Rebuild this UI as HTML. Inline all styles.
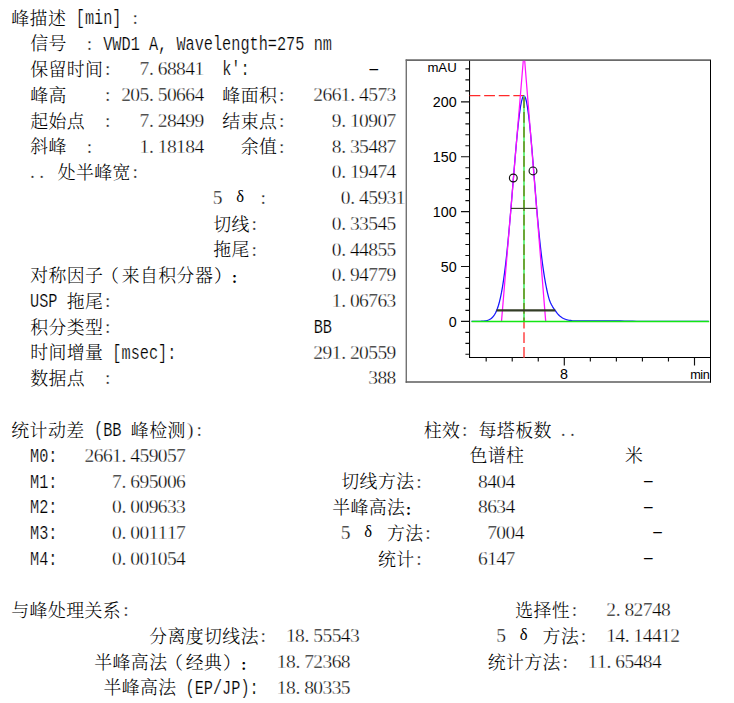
<!DOCTYPE html>
<html lang="zh-CN"><head><meta charset="utf-8"><title>峰描述</title>
<style>
html,body{margin:0;padding:0;background:#fff;overflow:hidden}
svg{display:block}
text{fill:#000;white-space:pre}
.c{font-family:"Liberation Serif","Noto Serif CJK SC",serif;font-size:17.9px;font-weight:300}
.n{font-family:"Liberation Serif",serif;font-size:19.5px;stroke:#fff;stroke-width:.34px;paint-order:fill stroke}
.m{font-family:"Liberation Mono",monospace;font-size:20.3px;stroke:#fff;stroke-width:.22px;paint-order:fill stroke}
.h{font-family:"Liberation Serif",serif;font-size:18.9px}
.g{font-family:"Liberation Serif",serif;font-size:16.6px}
.f{font-family:"Liberation Serif","Noto Serif CJK SC",serif;font-size:14px;font-weight:700}
.a{font-family:"Liberation Sans",sans-serif}
</style></head>
<body>
<svg width="734" height="703" viewBox="0 0 734 703">
<rect width="734" height="703" fill="#fff"/>
<g id="report">
<text class="c" x="11.3 29.6 47.9" y="25">峰描述</text>
<text class="m" transform="translate(75.75 24) scale(0.7512 1)">[min]</text>
<text class="n" x="132.52" y="24">:</text>
<text class="c" x="30.2 48.5" y="50">信号</text>
<text class="n" x="86.77" y="50">:</text>
<text class="m" transform="translate(103.2 50) scale(0.7512 1)">VWD1</text>
<text class="m" transform="translate(148.95 50) scale(0.7512 1)">A,</text>
<text class="m" transform="translate(176.4 50) scale(0.7512 1)">Wavelength=275</text>
<text class="m" transform="translate(313.65 50) scale(0.7512 1)">nm</text>
<text class="c" x="30.2 48.5 66.8 85.1" y="76">保留时间</text>
<text class="n" x="105.07" y="75">:</text>
<text class="n" x="139.5 149.05 157.8 166.95 176.1 185.25 194.4" y="75">7.68841</text>
<text class="m" transform="translate(222.15 75) scale(0.7512 1)">k':</text>
<text class="h" transform="translate(368.32 74) scale(1.755 1)">-</text>
<text class="c" x="30.2 48.5" y="102">峰高</text>
<text class="n" x="105.07" y="101">:</text>
<text class="n" x="121.2 130.35 139.5 149.05 157.8 166.95 176.1 185.25 194.4" y="101">205.50664</text>
<text class="c" x="222.35 240.65 258.95" y="102">峰面积</text>
<text class="n" x="278.92" y="101">:</text>
<text class="n" x="313.35 322.5 331.65 340.8 350.35 359.1 368.25 377.4 386.55" y="101">2661.4573</text>
<text class="c" x="30.2 48.5 66.8" y="128">起始点</text>
<text class="n" x="105.07" y="127">:</text>
<text class="n" x="139.5 149.05 157.8 166.95 176.1 185.25 194.4" y="127">7.28499</text>
<text class="c" x="222.35 240.65 258.95" y="128">结束点</text>
<text class="n" x="278.92" y="127">:</text>
<text class="n" x="331.65 341.2 349.95 359.1 368.25 377.4 386.55" y="127">9.10907</text>
<text class="c" x="30.2 48.5" y="153">斜峰</text>
<text class="n" x="86.77" y="153">:</text>
<text class="n" x="139.5 149.05 157.8 166.95 176.1 185.25 194.4" y="153">1.18184</text>
<text class="c" x="240.65 258.95" y="153">余值</text>
<text class="n" x="278.92" y="153">:</text>
<text class="n" x="331.65 341.2 349.95 359.1 368.25 377.4 386.55" y="153">8.35487</text>
<text class="n" x="30.1 39.25" y="178">..</text>
<text class="c" x="57.65 75.95 94.25 112.55" y="179">处半峰宽</text>
<text class="n" x="132.52" y="178">:</text>
<text class="n" x="331.65 341.2 349.95 359.1 368.25 377.4 386.55" y="178">0.19474</text>
<text class="n" x="212.7" y="204">5</text>
<text class="g" x="236.14" y="202">δ</text>
<text class="n" x="260.62" y="204">:</text>
<text class="n" x="340.8 350.35 359.1 368.25 377.4 386.55 395.7" y="204">0.45931</text>
<text class="c" x="213.2 231.5" y="231">切线</text>
<text class="n" x="251.47" y="230">:</text>
<text class="n" x="331.65 341.2 349.95 359.1 368.25 377.4 386.55" y="230">0.33545</text>
<text class="c" x="213.2 231.5" y="256">拖尾</text>
<text class="n" x="251.47" y="256">:</text>
<text class="n" x="331.65 341.2 349.95 359.1 368.25 377.4 386.55" y="256">0.44855</text>
<text class="c" x="30.2 48.5 66.8 85.1 101 121.7 140 158.3 176.6 194.9 213.95" y="282">对称因子（来自积分器）</text>
<text class="f" x="230.85" y="283.2">：</text>
<text class="n" x="331.65 341.2 349.95 359.1 368.25 377.4 386.55" y="281">0.94779</text>
<text class="m" transform="translate(30 307) scale(0.7512 1)">USP</text>
<text class="c" x="66.8 85.1" y="308">拖尾</text>
<text class="n" x="105.07" y="307">:</text>
<text class="n" x="331.65 341.2 349.95 359.1 368.25 377.4 386.55" y="307">1.06763</text>
<text class="c" x="30.2 48.5 66.8 85.1" y="334">积分类型</text>
<text class="n" x="105.07" y="333">:</text>
<text class="m" transform="translate(313.65 333) scale(0.7512 1)">BB</text>
<text class="c" x="30.2 48.5 66.8 85.1" y="359">时间增量</text>
<text class="m" transform="translate(112.35 359) scale(0.7512 1)">[msec]:</text>
<text class="n" x="313.35 322.5 331.65 341.2 349.95 359.1 368.25 377.4 386.55" y="359">291.20559</text>
<text class="c" x="30.2 48.5 66.8" y="385">数据点</text>
<text class="n" x="105.07" y="384">:</text>
<text class="n" x="368.25 377.4 386.55" y="384">388</text>
<text class="c" x="11.3 29.6 47.9 66.2" y="437">统计动差</text>
<text class="m" transform="translate(94.05 436) scale(0.7512 1)">(BB</text>
<text class="c" x="130.85 149.15 167.45" y="437">峰检测</text>
<text class="n" x="186.88 196.57" y="436">):</text>
<text class="c" x="423.65 441.95" y="437">柱效</text>
<text class="n" x="461.92" y="436">:</text>
<text class="c" x="478.55 496.85 515.15 533.45" y="437">每塔板数</text>
<text class="n" x="560.8 569.95" y="436">..</text>
<text class="m" transform="translate(30 462) scale(0.7512 1)">M0:</text>
<text class="n" x="84.6 93.75 102.9 112.05 121.6 130.35 139.5 148.65 157.8 166.95 176.1" y="462">2661.459057</text>
<text class="c" x="469.4 487.7 506" y="462">色谱柱</text>
<text class="c" x="624.95" y="462">米</text>
<text class="m" transform="translate(30 488) scale(0.7512 1)">M1:</text>
<text class="n" x="112.05 121.6 130.35 139.5 148.65 157.8 166.95 176.1" y="488">7.695006</text>
<text class="c" x="341.3 359.6 377.9 396.2" y="488">切线方法</text>
<text class="n" x="416.17" y="488">:</text>
<text class="n" x="478.05 487.2 496.35 505.5" y="488">8404</text>
<text class="h" transform="translate(642.82 486) scale(1.755 1)">-</text>
<text class="m" transform="translate(30 513) scale(0.7512 1)">M2:</text>
<text class="n" x="112.05 121.6 130.35 139.5 148.65 157.8 166.95 176.1" y="513">0.009633</text>
<text class="c" x="332.15 350.45 368.75 387.05" y="514">半峰高法</text>
<text class="f" x="404.7" y="515.2">：</text>
<text class="n" x="478.05 487.2 496.35 505.5" y="513">8634</text>
<text class="h" transform="translate(642.82 512) scale(1.755 1)">-</text>
<text class="m" transform="translate(30 539) scale(0.7512 1)">M3:</text>
<text class="n" x="112.05 121.6 130.35 139.5 148.65 157.8 166.95 176.1" y="539">0.001117</text>
<text class="n" x="340.8" y="539">5</text>
<text class="g" x="364.24" y="537">δ</text>
<text class="c" x="387.05 405.35" y="540">方法</text>
<text class="n" x="425.32" y="539">:</text>
<text class="n" x="487.2 496.35 505.5 514.65" y="539">7004</text>
<text class="h" transform="translate(651.97 537) scale(1.755 1)">-</text>
<text class="m" transform="translate(30 565) scale(0.7512 1)">M4:</text>
<text class="n" x="112.05 121.6 130.35 139.5 148.65 157.8 166.95 176.1" y="565">0.001054</text>
<text class="c" x="377.9 396.2" y="566">统计</text>
<text class="n" x="416.17" y="565">:</text>
<text class="n" x="478.05 487.2 496.35 505.5" y="565">6147</text>
<text class="h" transform="translate(642.82 563) scale(1.755 1)">-</text>
<text class="c" x="11.3 29.6 47.9 66.2 84.5 102.8" y="617">与峰处理关系</text>
<text class="n" x="123.37" y="616">:</text>
<text class="c" x="515.15 533.45 551.75" y="617">选择性</text>
<text class="n" x="571.72" y="616">:</text>
<text class="n" x="606.15 615.7 624.45 633.6 642.75 651.9 661.05" y="616">2.82748</text>
<text class="c" x="149.15 167.45 185.75 204.05 222.35 240.65" y="643">分离度切线法</text>
<text class="n" x="260.62" y="642">:</text>
<text class="n" x="285.9 295.05 304.6 313.35 322.5 331.65 340.8 349.95" y="642">18.55543</text>
<text class="n" x="496.35" y="642">5</text>
<text class="g" x="519.79" y="640">δ</text>
<text class="c" x="542.6 560.9" y="643">方法</text>
<text class="n" x="580.87" y="642">:</text>
<text class="n" x="606.15 615.3 624.85 633.6 642.75 651.9 661.05 670.2" y="642">14.14412</text>
<text class="c" x="94.25 112.55 130.85 149.15 165.05 185.75 204.05 223.1" y="669">半峰高法（经典）</text>
<text class="f" x="240" y="670.2">：</text>
<text class="n" x="276.75 285.9 295.45 304.2 313.35 322.5 331.65 340.8" y="668">18.72368</text>
<text class="c" x="487.7 506 524.3 542.6" y="669">统计方法</text>
<text class="n" x="562.57" y="668">:</text>
<text class="n" x="587.85 597 606.55 615.3 624.45 633.6 642.75 651.9" y="668">11.65484</text>
<text class="c" x="103.4 121.7 140 158.3" y="694">半峰高法</text>
<text class="m" transform="translate(185.55 694) scale(0.7512 1)">(EP/JP):</text>
<text class="n" x="276.75 285.9 295.45 304.2 313.35 322.5 331.65 340.8" y="694">18.80335</text>
</g>
<g id="chart" fill="none">
<path d="M406.25 59.4V382.7" stroke="#5a5a5a" stroke-width="1.2"/>
<path d="M405.65 60.1H711" stroke="#6a6a6a" stroke-width="1.6"/>
<path d="M405.65 382H711" stroke="#5c5c5c" stroke-width="1.6"/>
<path d="M710.5 60.1V382.6" stroke="#000" stroke-width="1"/>
<path d="M469.55 60.7V357.45H710.5" stroke="#000" stroke-width="1.05"/>
<path d="M465.4 354.28H469.55M465.4 343.3H469.55M465.4 332.33H469.55M461 321.35H469.55M465.4 310.38H469.55M465.4 299.4H469.55M465.4 288.43H469.55M465.4 277.45H469.55M461 266.48H469.55M465.4 255.5H469.55M465.4 244.53H469.55M465.4 233.55H469.55M465.4 222.58H469.55M461 211.6H469.55M465.4 200.63H469.55M465.4 189.65H469.55M465.4 178.68H469.55M465.4 167.7H469.55M461 156.73H469.55M465.4 145.75H469.55M465.4 134.78H469.55M465.4 123.8H469.55M465.4 112.83H469.55M461 101.85H469.55M465.4 90.88H469.55M465.4 79.9H469.55M465.4 68.93H469.55" stroke="#111" stroke-width="1.15"/>
<path d="M486.18 357.45V361.5M512.22 357.45V361.5M538.26 357.45V361.5M564.3 357.45V365.6M590.34 357.45V361.5M616.38 357.45V361.5M642.42 357.45V361.5M668.46 357.45V361.5M694.5 357.45V365.6" stroke="#111" stroke-width="1.15"/>
<path d="M469.55 95.6H524" stroke="#ff2a2a" stroke-width="1.15" stroke-dasharray="10.8 3.8"/>
<path d="M471.5 321.35 472.5 321.35 473.5 321.34 474.5 321.34 475.5 321.33 476.5 321.33 477.5 321.32 478.5 321.3 479.5 321.28 480.5 321.25 481.5 321.2 482.5 321.14 483.5 321.06 484.5 320.95 485.5 320.8 486.5 320.6 487.5 320.34 488.5 319.99 489.5 319.55 490.5 318.98 491.5 318.25 492.5 317.33 493.5 316.18 494.5 314.75 495.5 313 496.5 310.87 497.5 308.3 498.5 305.23 499.5 301.61 500.5 297.36 501.5 292.44 502.5 286.79 503.5 280.37 504.5 273.15 505.5 265.11 506.5 256.26 507.5 246.63 508.5 236.27 509.5 225.26 510.5 213.69 511.5 201.71 512.5 189.47 513.5 177.16 514.5 164.97 515.5 153.12 516.5 141.83 517.5 131.34 518.5 121.86 519.5 113.59 520.5 106.74 521.5 101.45 522.5 97.85 523.5 96.03 524.5 96.04 525.5 97.96 526.5 101.76 527.5 107.34 528.5 114.55 529.5 123.23 530.5 133.16 531.5 144.13 532.5 155.87 533.5 168.16 534.5 180.75 535.5 193.4 536.5 205.91 537.5 217.31 538.5 227.98 539.5 238.01 540.5 247.29 541.5 255.86 542.5 263.72 543.5 270.86 544.5 277.31 545.5 283.09 546.5 288.25 547.5 292.81 548.5 296.84 549.5 300.37 550.5 302.69 551.5 304.75 552.5 306.56 553.5 308.17 554.5 309.6 555.5 310.9 556.5 312.4 557.5 313.7 558.5 314.81 559.5 315.78 560.5 316.61 561.5 317.32 562.5 317.93 563.5 318.45 564.5 318.89 565.5 319.27 566.5 319.59 567.5 319.86 568.5 320.09 569.5 320.29 570.5 320.45 571.5 320.63 572.5 320.79 573.5 320.8 574.5 320.8 575.5 320.8 576.5 320.8 577.5 320.8 578.5 320.8 579.5 320.8 580.5 320.8 581.5 320.8 582.5 320.8 583.5 320.8 584.5 320.8 588.5 320.8 592.5 320.8 596.5 320.8 600.5 320.8 604.5 320.8 608.5 320.8 612.5 320.85 616.5 320.92 620.5 320.99 624.5 321.07 628.5 321.14 632.5 321.21 636.5 321.29 640.5 321.35 644.5 321.35 648.5 321.35 652.5 321.35 656.5 321.35 660.5 321.35 664.5 321.35 668.5 321.35 672.5 321.35 676.5 321.35 680.5 321.35 684.5 321.35 688.5 321.35 692.5 321.35 696.5 321.35 700.5 321.35 704.5 321.35 708.5 321.35" stroke="#1414ff" stroke-width="1.25" stroke-linejoin="round"/>
<path d="M501.5 321.35L523.27 60.7M545.7 321.35L524.7 60.7" stroke="#ff10ff" stroke-width="1.25"/>
<path d="M524 96.1V321.35" stroke="#55f070" stroke-width="1.7"/>
<path d="M524 357.8V321.95" stroke="#ff5050" stroke-width="1.6" stroke-dasharray="10.8 3.89"/>
<path d="M524 321.35V96.1" stroke="#6b9a2a" stroke-width="1.7" stroke-dasharray="10.8 3.89" stroke-dashoffset="36.45"/>
<path d="M511 208.4H536.6" stroke="#3a4628" stroke-width="1.15"/>
<path d="M496.5 310.4H555.3" stroke="#333d26" stroke-width="2.3"/>
<path d="M471.6 321.45H709.2" stroke="#14e614" stroke-width="1.35"/>
<circle cx="513.3" cy="178" r="3.9" stroke="#111" stroke-width="1.15"/>
<circle cx="533" cy="170.9" r="3.9" stroke="#111" stroke-width="1.15"/>
</g>
<g class="a" fill="#000">
<text x="456.7" y="71.8" font-size="13.2" text-anchor="end">mAU</text>
<text x="456.6" y="107.15" font-size="14.3" text-anchor="end">200</text>
<text x="456.6" y="162.03" font-size="14.3" text-anchor="end">150</text>
<text x="456.6" y="216.9" font-size="14.3" text-anchor="end">100</text>
<text x="456.6" y="271.78" font-size="14.3" text-anchor="end">50</text>
<text x="456.6" y="326.65" font-size="14.3" text-anchor="end">0</text>
<text x="564" y="379" font-size="14.3" text-anchor="middle">8</text>
<text x="690.2" y="378.7" font-size="12.7" textLength="19.6">min</text>
</g>
</svg>
</body></html>
